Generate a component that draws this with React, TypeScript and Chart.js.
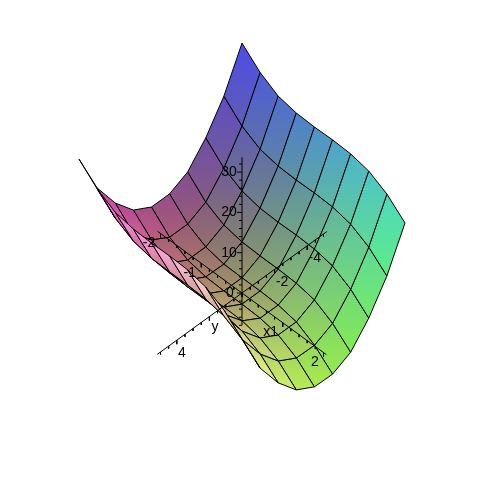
import React, { useEffect, useRef } from "react";
import { Chart, registerables } from "chart.js";

Chart.register(...registerables);

// Surface samples: z over x (rows) and y (columns)
const xValues = [-2, -1.556, -1.111, -0.667, -0.222, 0.222, 0.667, 1.111, 1.556, 2];
const yValues = [-5, -3.889, -2.778, -1.667, -0.556, 0.556, 1.667, 2.778, 3.889, 5];
const zRow0 = [32.6, 22.7, 15.6, 10.4, 8.2, 8.2, 10.7, 15.7, 22.7, 33.1];
const zRow1 = [28.6, 18.6, 11.4, 6.2, 4.0, 4.0, 6.6, 11.5, 18.5, 29.0];
const zRow2 = [26.0, 16.1, 9.0, 3.8, 1.6, 1.6, 4.1, 9.1, 16.1, 26.5];
const zRow3 = [25.1, 15.2, 8.0, 2.9, 0.6, 0.7, 3.2, 8.2, 15.1, 25.6];
const zRow4 = [24.9, 15.0, 7.8, 2.7, 0.5, 0.5, 3.0, 8.0, 15.0, 25.4];
const zRow5 = [25.0, 15.1, 7.9, 2.7, 0.5, 0.5, 3.0, 8.0, 15.0, 25.5];
const zRow6 = [24.8, 14.9, 7.7, 2.5, 0.3, 0.3, 2.9, 7.8, 14.8, 25.3];
const zRow7 = [23.8, 13.9, 6.8, 1.6, -0.6, -0.6, 1.9, 6.9, 13.9, 24.3];
const zRow8 = [21.4, 11.5, 4.3, -0.9, -3.1, -3.0, -0.5, 4.5, 11.4, 21.9];
const zRow9 = [17.5, 7.6, 0.4, -4.8, -7.0, -6.9, -4.4, 0.6, 7.5, 18.0];
const zGrid = [zRow0, zRow1, zRow2, zRow3, zRow4, zRow5, zRow6, zRow7, zRow8, zRow9];

// Axis extents and tick labels
const xAxisRange = [-2.07, 2.07];
const yAxisRange = [-5.2, 5.2];
const zAxisRange = [-8, 33.7];
const xTickLabels = ["-2", "-1", "1", "2"];
const xTickValues = [-2, -1, 1, 2];
const yTickLabels = ["-4", "-2", "4"];
const yTickValues = [-4, -2, 4];
const zTickLabels = ["0", "10", "20", "30"];
const zTickValues = [0, 10, 20, 30];

const SIZE = 483;
const project = (x: number, y: number, z: number) => ({
  x: 242 + 40.75 * x - 16.3 * y,
  y: 293 + 29.75 * x + 11.8 * y - 4.03 * z,
});
const depth = (x: number, y: number, z: number) => 6899 * (x / 2) + 6811 * (y / 5) + 10079 * (z / 20);

const colorAt = (i: number, j: number) => {
  const r = 0.3 + (0.64 * j) / 9;
  const g = 0.3 + (0.62 * i) / 9;
  const b = 0.3 + (0.62 * (zGrid[i][j] + 7)) / 40;
  return [r * 255, g * 255, Math.min(1, b) * 255];
};
const css = (c: number[]) => `rgb(${Math.round(c[0])},${Math.round(c[1])},${Math.round(c[2])})`;
const mix = (list: number[][]) =>
  [0, 1, 2].map((k) => list.reduce((s, c) => s + c[k], 0) / list.length);

function stepValues(from: number, to: number, step: number) {
  const out: number[] = [];
  const n = Math.round((to - from) / step);
  for (let k = 0; k <= n; k++) out.push(from + k * step);
  return out;
}

export default function App() {
  const ref = useRef<HTMLCanvasElement>(null);
  useEffect(() => {
    document.body.style.margin = "0";
    const canvas = ref.current!;
    const ctx = canvas.getContext("2d")!;
    const cells: any[] = [];
    for (let i = 0; i < xValues.length - 1; i++) {
      for (let j = 0; j < yValues.length - 1; j++) {
        const corners = [
          [i, j],
          [i + 1, j],
          [i + 1, j + 1],
          [i, j + 1],
        ];
        const pts = corners.map(([a, b]) => project(xValues[a], yValues[b], zGrid[a][b]));
        const d =
          corners.reduce((s, [a, b]) => s + depth(xValues[a], yValues[b], zGrid[a][b]), 0) / 4;
        const cols = corners.map(([a, b]) => colorAt(a, b));
        const grad = ctx.createLinearGradient(pts[0].x, pts[0].y, pts[2].x, pts[2].y);
        grad.addColorStop(0, css(cols[0]));
        grad.addColorStop(0.5, css(mix(cols)));
        grad.addColorStop(1, css(cols[2]));
        cells.push({
          d,
          ds: {
            data: [...pts, pts[0]],
            showLine: true,
            fill: "shape",
            backgroundColor: grad,
            borderColor: "#000",
            borderWidth: 1,
            pointRadius: 0,
            tension: 0,
            clip: false,
          },
        });
      }
    }
    cells.sort((a, b) => b.d - a.d);

    const brk = { x: NaN, y: NaN };
    const axisPath: any[] = [];
    const seg = (a: any, b: any) => axisPath.push(a, b, brk);
    const shift = (p: any, dx: number, dy: number) => ({ x: p.x + dx, y: p.y + dy });
    seg(project(xAxisRange[0], 0, 0), project(xAxisRange[1], 0, 0));
    seg(project(0, yAxisRange[0], 0), project(0, yAxisRange[1], 0));
    seg(project(0, 0, zAxisRange[0]), project(0, 0, zAxisRange[1]));
    for (const v of stepValues(-2, 2, 0.2)) {
      const p = project(v, 0, 0);
      seg(p, shift(p, 0, Math.abs(v % 1) < 0.01 ? 4 : 2.5));
    }
    for (const v of stepValues(-5, 5, 0.5)) {
      const p = project(0, v, 0);
      seg(p, shift(p, 0, Math.abs(v % 2) < 0.01 ? 4 : 2.5));
    }
    for (const v of stepValues(-8, 32, 2)) {
      const p = project(0, 0, v);
      seg(p, shift(p, Math.abs(v % 10) < 0.01 ? -5 : -3, 0));
    }
    const axisDataset = {
      data: axisPath,
      showLine: true,
      fill: false,
      borderColor: "#000",
      borderWidth: 1,
      pointRadius: 0,
      tension: 0,
      spanGaps: false,
      clip: false,
    };

    const labels = [
      ...xTickValues.map((v, k) => ({ p: shift(project(v, 0, 0), v < 0 ? -11.5 : -8.5, 9.5), t: xTickLabels[k] })),
      ...yTickValues.map((v, k) => ({ p: shift(project(0, v, 0), v < 0 ? 7.5 : 5, 12.5), t: yTickLabels[k] })),
      ...zTickValues.map((v, k) => ({ p: shift(project(0, 0, v), v === 0 ? -12 : -13, 0), t: zTickLabels[k] })),
      { p: shift(project(1, 0, 0), -16, 9.5), t: "x" },
      { p: shift(project(0, 3, 0), 22, -1), t: "y" },
    ];

    const labelPlugin = {
      id: "axisLabels",
      afterDatasetsDraw(chart: any) {
        const c = chart.ctx;
        const sx = chart.scales.x;
        const sy = chart.scales.y;
        c.save();
        c.fillStyle = "#000";
        c.font = '14px "Liberation Sans"';
        c.textAlign = "center";
        c.textBaseline = "middle";
        for (const l of labels) {
          c.fillText(l.t, sx.getPixelForValue(l.p.x), sy.getPixelForValue(l.p.y));
        }
        c.restore();
      },
    };

    const chart = new Chart(canvas, {
      type: "scatter",
      data: { datasets: [axisDataset, ...cells.map((c) => c.ds)] as any },
      options: {
        responsive: false,
        animation: false,
        events: [],
        layout: { padding: 0 },
        plugins: { legend: { display: false }, tooltip: { enabled: false } },
        scales: {
          x: { type: "linear", min: 0, max: SIZE, display: false },
          y: { type: "linear", min: 0, max: SIZE, reverse: true, display: false },
        },
      },
      plugins: [labelPlugin],
    } as any);
    return () => chart.destroy();
  }, []);
  return (
    <div style={{ width: SIZE, height: SIZE, background: "#fff" }}>
      <canvas ref={ref} width={SIZE} height={SIZE} style={{ display: "block" }} />
    </div>
  );
}
